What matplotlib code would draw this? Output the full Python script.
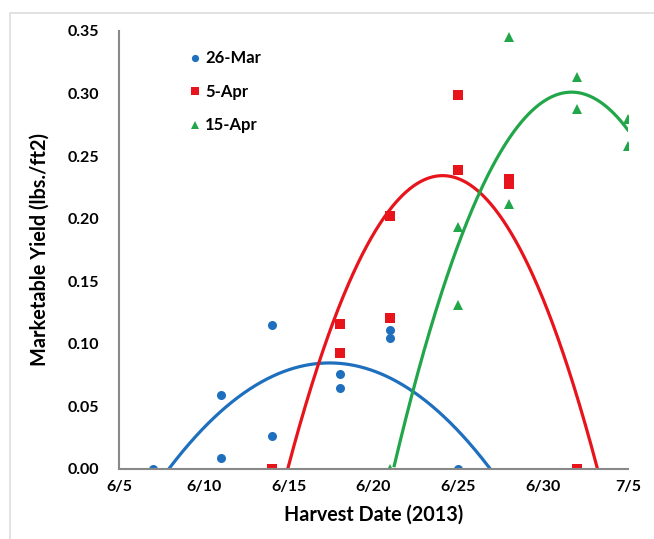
import numpy as np
import matplotlib.pyplot as plt
from matplotlib.patches import Rectangle

plt.rcParams['font.family'] = ['Lato', 'DejaVu Sans']

# days after 6/5
tick_days = [0, 5, 10, 15, 20, 25, 30]
tick_labels = ['6/5', '6/10', '6/15', '6/20', '6/25', '6/30', '7/5']

mar26_days = [2, 6, 6, 9, 9, 13, 13, 16, 16, 20]
mar26_yield = [0.0, 0.059, 0.009, 0.115, 0.026, 0.076, 0.065, 0.111, 0.105, 0.0]

apr5_days = [9, 13, 13, 16, 16, 20, 20, 23, 23, 27]
apr5_yield = [0.0, 0.116, 0.093, 0.202, 0.121, 0.299, 0.239, 0.232, 0.228, 0.0]

apr15_days = [16, 20, 20, 23, 23, 27, 27, 30, 30]
apr15_yield = [0.0, 0.193, 0.131, 0.345, 0.212, 0.313, 0.288, 0.280, 0.258]

series = [
    ('26-Mar', mar26_days, mar26_yield, '#1f6fbf', 'o'),
    ('5-Apr', apr5_days, apr5_yield, '#e8141c', 's'),
    ('15-Apr', apr15_days, apr15_yield, '#22a64a', '^'),
]

fig = plt.figure(figsize=(6.54, 5.39), dpi=100)
ax = fig.add_axes([0.182, 0.130, 0.778, 0.8125])

for name, d, v, col, mk in series:
    ax.plot(d, v, linestyle='none', marker=mk, color=col, markersize=6.5,
            markeredgewidth=0, label=name)
    # quadratic trendline, only where it stays above zero
    coef = np.polyfit(d, v, 2)
    xs = np.linspace(0, 30, 600)
    ys = np.polyval(coef, xs)
    ys = np.where(ys >= 0, ys, np.nan)
    ax.plot(xs, ys, color=col, lw=2.3, zorder=1)

ax.set_xlim(0, 30)
ax.set_ylim(0, 0.35)
ax.set_xticks(tick_days)
ax.set_xticklabels(tick_labels)
ax.set_yticks(np.arange(0, 0.351, 0.05))
ax.set_yticklabels([f'{t:.2f}' for t in np.arange(0, 0.351, 0.05)])
ax.tick_params(length=0, labelsize=11.5)
ax.tick_params(axis='x', pad=8)
ax.tick_params(axis='y', pad=14)
for lab in ax.get_xticklabels() + ax.get_yticklabels():
    lab.set_fontweight('bold')

for s in ['top', 'right']:
    ax.spines[s].set_visible(False)
for s in ['left', 'bottom']:
    ax.spines[s].set_color('#888888')
    ax.spines[s].set_linewidth(1.5)

ax.set_xlabel('Harvest Date (2013)', fontsize=14.2, fontweight='bold', labelpad=8)
ax.set_ylabel('Marketable Yield (lbs./ft2)', fontsize=14.3, fontweight='bold', labelpad=13)

leg = ax.legend(loc='upper left', bbox_to_anchor=(0.1, 0.99), frameon=False,
                handletextpad=0.0, labelspacing=1.05, handlelength=1.2,
                markerscale=0.8, prop={'weight': 'bold', 'size': 12})

fig.patches.append(Rectangle((10 / 654, -0.01), 1.0, 1 - 13 / 539 + 0.01,
                             transform=fig.transFigure, fill=False,
                             edgecolor='#dddddd', lw=1.2))

fig.savefig('out.png', dpi=100)
